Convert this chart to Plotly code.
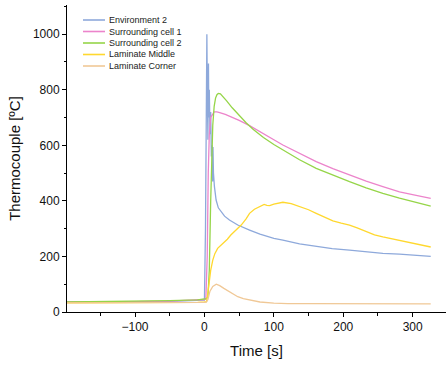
import plotly.graph_objects as go

# ---- data ----
env2_t = [-200, -150, -100, -50, -10, 0, 1.5, 2.5, 3.5, 4.2, 5, 5.8, 6.3, 7, 8, 9, 10, 11, 11.8, 12.3, 13,
          14.4, 16.8, 20, 24, 29, 36, 48, 65, 80, 100, 113, 137, 161, 184, 209, 233, 257, 281, 305, 326]
env2_T = [35, 35, 36, 38, 41, 43, 300, 700, 1000, 780, 620, 894, 700, 800, 640, 720, 560, 600, 470, 594, 500,
          451, 403, 375, 361, 345, 331, 313, 295, 280, 265, 259, 245, 237, 228, 223, 216, 211, 208, 204, 200]

sc1_t = [-200, -150, -100, -50, -10, 0, 2, 4, 5.5, 7, 9, 12, 14, 18, 22, 30, 40, 50, 65, 80, 100, 113, 137,
         161, 185, 209, 233, 257, 281, 305, 326]
sc1_T = [36, 36, 37, 39, 42, 45, 47, 200, 500, 640, 700, 715, 720, 720, 718, 711, 701, 690, 671, 648, 620, 601,
         570, 541, 516, 493, 471, 451, 432, 420, 409]

sc2_t = [-200, -150, -100, -50, -10, 0, 3, 5, 7, 9, 10.5, 12, 14, 16, 18, 20, 23, 27, 32, 40, 50, 60, 70, 85,
         100, 113, 137, 161, 185, 209, 233, 257, 281, 305, 326]
sc2_T = [36, 37, 38, 41, 44, 47, 48, 55, 150, 400, 600, 672, 740, 770, 782, 787, 785, 775, 760, 735, 706, 681,
         658, 628, 603, 583, 548, 517, 492, 469, 447, 427, 410, 395, 381]

mid_t = [-200, -150, -100, -50, -10, 0, 3, 5, 7, 9, 12, 15, 19, 24, 29, 33, 38, 45, 53, 60, 65, 72, 79, 86, 90,
         94, 100, 113, 125, 137, 150, 161, 175, 185, 197, 209, 220, 233, 245, 257, 270, 281, 295, 310, 326]
mid_T = [33, 33, 33, 34, 35, 36, 37, 70, 109, 150, 187, 210, 229, 240, 253, 262, 277, 295, 313, 335, 355, 370,
         379, 387, 384, 383, 388, 395, 390, 379, 368, 355, 340, 328, 320, 313, 303, 289, 278, 270, 263, 259, 250,
         242, 234]

cor_t = [-200, -150, -100, -50, -10, 0, 3, 5, 8, 12, 17, 22, 28, 34, 41, 48, 56, 65, 80, 100, 120, 150, 200,
         250, 300, 326]
cor_T = [33, 33, 33, 34, 35, 35, 36, 45, 75, 92, 100, 95, 85, 76, 65, 55, 48, 43, 36, 32, 30, 30, 30, 29, 29, 29]

names = ["Environment 2", "Surrounding cell 1", "Surrounding cell 2", "Laminate Middle", "Laminate Corner"]
colors = ["#8EA9DB", "#EC84CB", "#95D548", "#FFD82E", "#F0C896"]
series = [(env2_t, env2_T), (sc1_t, sc1_T), (sc2_t, sc2_T), (mid_t, mid_T), (cor_t, cor_T)]

W, H = 446, 365
L, R, T, B = 67, 0, 5, 53

fig = go.Figure()
for (t, v), n, c in zip(series, names, colors):
    fig.add_trace(go.Scatter(x=t, y=v, mode="lines", name=n, line=dict(color=c, width=1.3),
                             showlegend=False))

# manual compact legend (pixel layout converted to paper coords)
pw, ph = W - L - R, H - T - B
def px(x):
    return (x - L) / pw
def py(y):
    return (H - B - y) / ph

shapes, annots = [], []
for i, (n, c) in enumerate(zip(names, colors)):
    yc = 20 + i * 11.5
    shapes.append(dict(type="line", xref="paper", yref="paper", x0=px(83), x1=px(105), y0=py(yc), y1=py(yc),
                       line=dict(color=c, width=1.6)))
    annots.append(dict(xref="paper", yref="paper", x=px(107), y=py(yc), text=n, showarrow=False,
                       xanchor="left", yanchor="middle", font=dict(size=9, color="#222222")))

fig.update_layout(
    width=W, height=H,
    margin=dict(l=L, r=R, t=T, b=B),
    paper_bgcolor="white", plot_bgcolor="white",
    font=dict(family="Liberation Sans, Arial, sans-serif", color="#111111"),
    shapes=shapes, annotations=annots,
)
fig.update_xaxes(
    range=[-198, 348], showgrid=False, zeroline=False,
    showline=True, linecolor="black", linewidth=1,
    tickmode="array", tickvals=[-100, 0, 100, 200, 300], ticktext=["\u2212100", "0", "100", "200", "300"],
    ticks="outside", ticklen=4, tickcolor="black", tickfont=dict(size=12),
    minor=dict(tickmode="array", tickvals=[-150, -50, 50, 150, 250, 350], ticks="outside", ticklen=2.5,
               tickcolor="black"),
    title=dict(text="Time [s]", font=dict(size=15), standoff=12),
)
fig.update_yaxes(
    range=[0, 1105], showgrid=False, zeroline=False,
    showline=True, linecolor="black", linewidth=1,
    tickmode="array", tickvals=[0, 200, 400, 600, 800, 1000],
    ticks="outside", ticklen=4, tickcolor="black", tickfont=dict(size=12),
    minor=dict(tickmode="array", tickvals=[100, 300, 500, 700, 900, 1100], ticks="outside", ticklen=2.5,
               tickcolor="black"),
    title=dict(text="Thermocouple [ºC]", font=dict(size=15), standoff=8),
)

fig.write_html("out.html")
